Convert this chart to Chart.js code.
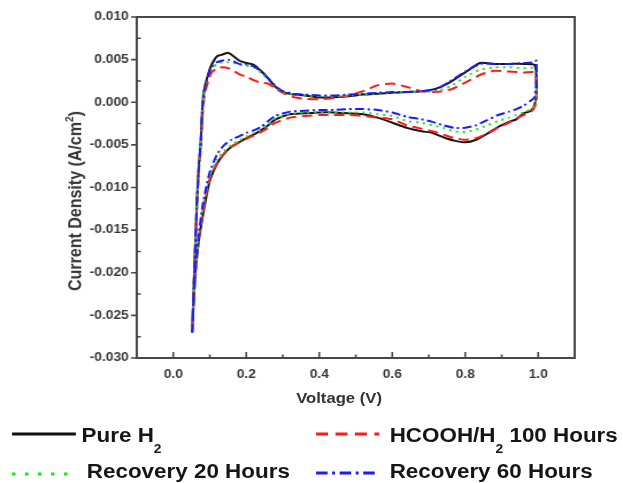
<!DOCTYPE html>
<html>
<head>
<meta charset="utf-8">
<script src="https://cdn.jsdelivr.net/npm/chart.js@4.4.1/dist/chart.umd.min.js"></script>
<style>
  html, body { margin: 0; padding: 0; background: #fff; overflow: hidden; }
  #wrap { position: absolute; left: 0; top: 0; width: 542px; height: 483px; transform-origin: 0 0; transform: scaleX(1.1494); }
  #c { position: absolute; left: 0; top: 0; }
  .t { position: absolute; font-family: "Liberation Sans", Arial, sans-serif; font-weight: bold; white-space: nowrap; line-height: 1; }
  .lg { font-size: 19.5px; color: #151515; }
  .sub { font-size: 12px; position: relative; top: 11px; }
  .sup { font-size: 10px; position: relative; top: -7px; }
  svg { position: absolute; left: 0; top: 0; overflow: visible; }
</style>
</head>
<body>
<div id="wrap">
  <canvas id="c" width="542" height="400"></canvas>
  <div class="t" id="ytitle" style="font-size:16px;color:#333;left:65.5px;top:201px;transform:translate(-50%,-50%) rotate(-90deg);">Current Density (A/cm<span class="sup">2</span>)</div>
  <div class="t" style="font-size:14.5px;color:#333;left:295px;top:391px;transform:translateX(-50%);">Voltage (V)</div>
  <svg width="542" height="483">
    <line x1="10.5" y1="434" x2="66" y2="434" stroke="#111" stroke-width="3"/>
    <line x1="275" y1="434" x2="330" y2="434" stroke="#ff1a1a" stroke-width="3" stroke-dasharray="10.4 6.5"/>
    <line x1="10.5" y1="474" x2="66" y2="474" stroke="#22e022" stroke-width="3" stroke-dasharray="3 8.3"/>
    <line x1="275" y1="473" x2="329" y2="473" stroke="#1a1aff" stroke-width="3" stroke-dasharray="10 4 2.5 4"/>
  </svg>
  <div class="t lg" style="left:71px;top:425.5px;">Pure H<span class="sub">2</span></div>
  <div class="t lg" style="left:339px;top:425.5px;">HCOOH/H<span class="sub">2</span> 100 Hours</div>
  <div class="t lg" style="left:75.5px;top:461.5px;">Recovery 20 Hours</div>
  <div class="t lg" style="left:339px;top:461.5px;">Recovery 60 Hours</div>
</div>
<script>
// Voltage sweep (anodic 0.05 -> 1.0, then cathodic back to 0.05), V
const voltage = [
  0.052, 0.058, 0.065, 0.070, 0.075, 0.080, 0.085, 0.095, 0.105, 0.12,
  0.135, 0.15, 0.165, 0.18, 0.20, 0.22, 0.24, 0.26, 0.28, 0.30,
  0.33, 0.36, 0.40, 0.44, 0.48, 0.52, 0.56, 0.60, 0.64, 0.68,
  0.72, 0.76, 0.80, 0.84, 0.88, 0.92, 0.96, 0.99,
  0.995, 0.995, 0.99, 0.98,
  0.96, 0.94, 0.92, 0.89, 0.86, 0.83, 0.80, 0.77, 0.74, 0.71,
  0.68, 0.64, 0.60, 0.56, 0.52, 0.48, 0.44, 0.40, 0.36, 0.32,
  0.28, 0.26, 0.24, 0.22, 0.20, 0.18, 0.16, 0.14, 0.12, 0.10,
  0.09, 0.08, 0.07, 0.062, 0.056, 0.052
];
// Current density, A/cm2
const pureH2 = [
  -0.0270, -0.0196, -0.0115, -0.0075, -0.0048, -0.0004, 0.0015, 0.0032, 0.0044, 0.0054,
  0.0056, 0.0058, 0.0054, 0.0049, 0.0046, 0.0044, 0.0037, 0.0028, 0.0018, 0.0012,
  0.0009, 0.0008, 0.00055, 0.0006, 0.0007, 0.0009, 0.0010, 0.0011, 0.0012, 0.0013,
  0.0016, 0.0024, 0.0035, 0.0046, 0.0045, 0.0045, 0.0045, 0.0044,
  0.0030, 0.0007, -0.0003, -0.0010,
  -0.0013, -0.0020, -0.0023, -0.0029, -0.0037, -0.0044, -0.0047, -0.0045, -0.0041, -0.0036,
  -0.0034, -0.0030, -0.0024, -0.0018, -0.0014, -0.0013, -0.0012, -0.0012, -0.0013, -0.0014,
  -0.0020, -0.0027, -0.0033, -0.0038, -0.0042, -0.0047, -0.0052, -0.0060, -0.0072, -0.0092,
  -0.0112, -0.0135, -0.0162, -0.0193, -0.0232, -0.0270
];
const hcooh100h = [
  -0.0265, -0.0195, -0.0118, -0.0080, -0.0054, -0.0016, 0.0007, 0.0024, 0.0035, 0.0040,
  0.0041, 0.0040, 0.0037, 0.0033, 0.0030, 0.0026, 0.0023, 0.0022, 0.0016, 0.0011,
  0.0006, 0.0004, 0.00035, 0.0005, 0.0008, 0.0013, 0.0020, 0.0022, 0.0018, 0.0013,
  0.0012, 0.0015, 0.0023, 0.0032, 0.0037, 0.0036, 0.0035, 0.0035,
  0.0015, 0.0003, -0.0006, -0.0011,
  -0.0015, -0.0019, -0.0024, -0.0030, -0.0037, -0.0042, -0.0044, -0.0042, -0.0038, -0.0034,
  -0.0031, -0.0027, -0.0020, -0.0018, -0.0016, -0.0015, -0.0015, -0.0015, -0.0016, -0.0018,
  -0.0024, -0.0030, -0.0035, -0.0039, -0.0043, -0.0047, -0.0052, -0.0060, -0.0071, -0.0090,
  -0.0110, -0.0132, -0.0160, -0.0192, -0.0230, -0.0265
];
const recovery20h = [
  -0.0265, -0.0195, -0.0116, -0.0077, -0.0050, -0.0008, 0.0013, 0.0029, 0.0039, 0.0045,
  0.0047, 0.0047, 0.0046, 0.0044, 0.0043, 0.0041, 0.0035, 0.0027, 0.0018, 0.0012,
  0.0009, 0.0008, 0.0007, 0.0007, 0.0008, 0.0009, 0.0010, 0.0011, 0.0012, 0.0012,
  0.0013, 0.0019, 0.0030, 0.0038, 0.0041, 0.0041, 0.0040, 0.0040,
  0.0025, 0.0005, -0.0004, -0.0008,
  -0.0012, -0.0015, -0.0018, -0.0022, -0.0027, -0.0032, -0.0035, -0.0034, -0.0030, -0.0027,
  -0.0024, -0.0022, -0.0016, -0.0014, -0.0012, -0.0012, -0.0012, -0.0012, -0.0012, -0.0014,
  -0.0019, -0.0026, -0.0032, -0.0036, -0.0040, -0.0045, -0.0050, -0.0057, -0.0067, -0.0086,
  -0.0104, -0.0126, -0.0156, -0.0190, -0.0228, -0.0265
];
const recovery60h = [
  -0.0270, -0.0196, -0.0115, -0.0076, -0.0049, -0.0006, 0.0014, 0.0030, 0.0041, 0.0047,
  0.0049, 0.0050, 0.0048, 0.0045, 0.0044, 0.0042, 0.0036, 0.0028, 0.0019, 0.0013,
  0.0010, 0.0009, 0.0008, 0.0008, 0.0009, 0.0010, 0.0011, 0.0012, 0.0012, 0.0013,
  0.0015, 0.0025, 0.0036, 0.0045, 0.0045, 0.0045, 0.0046, 0.0047,
  0.0049, 0.0023, 0.0006, 0.0002,
  -0.0004, -0.0008, -0.0011, -0.0015, -0.0021, -0.0027, -0.0030, -0.0030, -0.0027, -0.0023,
  -0.0020, -0.0017, -0.0012, -0.0009, -0.0008, -0.0008, -0.0009, -0.0009, -0.0010, -0.0011,
  -0.0016, -0.0022, -0.0029, -0.0033, -0.0036, -0.0040, -0.0044, -0.0050, -0.0061, -0.0082,
  -0.0100, -0.0122, -0.0155, -0.0190, -0.0228, -0.0270
];
const seriesNames = ["Pure H2", "HCOOH/H2 100 Hours", "Recovery 20 Hours", "Recovery 60 Hours"];
const xTicks = [0.0, 0.2, 0.4, 0.6, 0.8, 1.0];
const xMinorTicks = [0.1, 0.3, 0.5, 0.7, 0.9];
const yTicks = [-0.030, -0.025, -0.020, -0.015, -0.010, -0.005, 0.000, 0.005, 0.010];
const yMinorTicks = [-0.0275, -0.0225, -0.0175, -0.0125, -0.0075, -0.0025, 0.0025, 0.0075];

const toPts = arr => voltage.map((v, i) => ({ x: v, y: arr[i] }));

const CW = 542, CH = 400;
const plotLeft = 119, plotRight = 500, plotTop = 17, plotBottom = 358;
const tickFont = { family: "'Liberation Sans', Arial, sans-serif", size: 12, weight: 'bold' };

const framePlugin = {
  id: 'frame',
  afterDraw(chart) {
    const { ctx, chartArea: a, scales } = chart;
    ctx.save();
    ctx.strokeStyle = '#474747';
    ctx.lineWidth = 2;
    ctx.strokeRect(a.left, a.top, a.right - a.left, a.bottom - a.top);
    ctx.lineWidth = 1.6;
    ctx.beginPath();
    xTicks.forEach(v => { const p = scales.x.getPixelForValue(v); ctx.moveTo(p, a.bottom); ctx.lineTo(p, a.bottom - 6); });
    xMinorTicks.forEach(v => { const p = scales.x.getPixelForValue(v); ctx.moveTo(p, a.bottom); ctx.lineTo(p, a.bottom - 3.5); });
    yTicks.forEach(v => { const p = scales.y.getPixelForValue(v); ctx.moveTo(a.left, p); ctx.lineTo(a.left - 5, p); });
    yMinorTicks.forEach(v => { const p = scales.y.getPixelForValue(v); ctx.moveTo(a.left, p); ctx.lineTo(a.left + 3.5, p); });
    ctx.stroke();
    ctx.restore();
  }
};

const styles = [
  { color: '#151515', dash: [], order: 4 },
  { color: '#ff1a1a', dash: [9, 5], order: 3 },
  { color: '#22e022', dash: [2, 4], order: 2 },
  { color: '#1a1aff', dash: [8, 3, 2, 3], order: 1 }
];
const seriesData = [pureH2, hcooh100h, recovery20h, recovery60h];

new Chart(document.getElementById('c'), {
  type: 'scatter',
  data: {
    datasets: seriesData.map((arr, i) => ({
      label: seriesNames[i],
      data: toPts(arr),
      showLine: true,
      borderColor: styles[i].color,
      backgroundColor: styles[i].color,
      borderDash: styles[i].dash,
      borderWidth: 2,
      pointRadius: 0,
      tension: 0.2,
      order: styles[i].order
    }))
  },
  options: {
    responsive: false,
    animation: false,
    layout: { padding: { left: 0, right: CW - plotRight, top: plotTop, bottom: 0 } },
    plugins: { legend: { display: false }, tooltip: { enabled: false } },
    scales: {
      x: {
        type: 'linear', min: -0.1, max: 1.1,
        grid: { display: false, drawTicks: false },
        border: { display: false },
        ticks: { font: tickFont, color: '#3a3a3a', padding: 9, maxRotation: 0, autoSkip: false, callback: v => v.toFixed(1) },
        afterBuildTicks: s => { s.ticks = xTicks.map(v => ({ value: v })); },
        afterFit: s => { s.height = CH - plotBottom; }
      },
      y: {
        type: 'linear', min: -0.03, max: 0.01,
        grid: { display: false, drawTicks: false },
        border: { display: false },
        ticks: { font: tickFont, color: '#3a3a3a', padding: 7, autoSkip: false, callback: v => v.toFixed(3) },
        afterBuildTicks: s => { s.ticks = yTicks.map(v => ({ value: v })); },
        afterFit: s => { s.width = plotLeft; }
      }
    }
  },
  plugins: [framePlugin]
});
</script>
</body>
</html>
